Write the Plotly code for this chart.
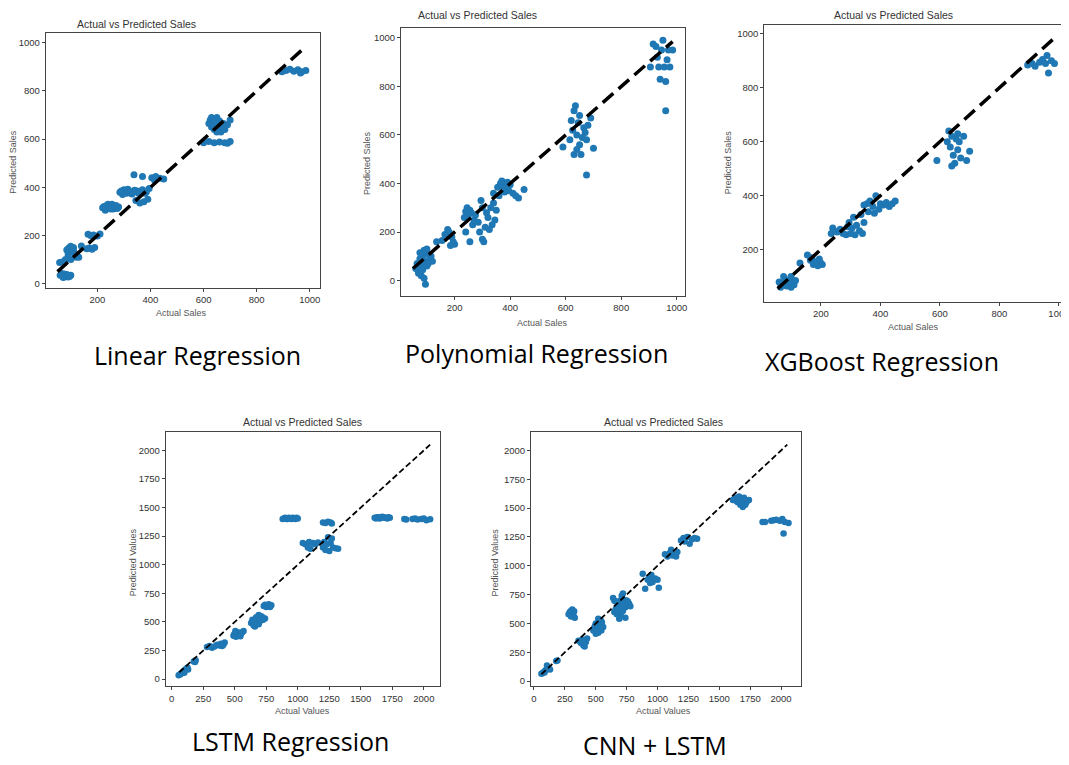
import plotly.graph_objects as go

# The page body has an 8px default margin, so figure coordinates are offset.
OFF = 8
W, H = 1069 - OFF, 765 - OFF

# ---------------- data ----------------
lin_x = [60,70,80,90,100,75,85,65,72,95, 58,68,
         85,95,105,100,110,90,120,80,100,130,115,90,100,110, 140,
         160,170,180,190, 165,175,185,200,210,
         225,235,245,255,265,275,230,260,220,240,250,270,280,
         285,300,310,320,335,350,360,370,380,295,330,290,305,315,325,340,355,365,385,
         345,360,375,390, 338,370, 395,
         405,420,435,450,415,
         600,620,640,660,680,700,690,
         625,635,645,655,630,640,650,660,670,680,690,700,620,645,665,630,650,635,655,675,640,
         895,910,925,940,955,970,985,965]
lin_y = [35,30,32,28,35,40,38,42,25,30, 88,90,
         140,150,145,130,150,120,110,100,100,110,125,145,155,140, 156,
         145,148,143,150, 205,200,202,198,206,
         320,325,315,330,318,312,305,310,315,330,310,325,318,
         380,390,375,385,380,385,378,390,375,370,372,385,380,392,378,388,375,385,382,
         345,335,340,350, 452,445, 395,
         440,445,438,435,430,
         585,590,585,588,585,590,583,
         680,670,685,660,650,640,630,675,650,640,660,680,665,655,630,690,690,660,645,665,675,
         880,885,890,882,888,880,885,875]

poly_x = [60,65,70,75,80,85,90,95,100,105,80,90,95,70,100,110,85,65,75,90,105,115,120,
          135,155,165,180,190,195,200,185,175,
          240,245,250,255,260,235,265,270,255,240,290,300,305,310,320,315,300,295,330,340,350,345,335,325,285,275,
          340,355,365,375,385,395,400,410,420,430,360,380,450,370,390,
          590,615,625,630,635,640,645,650,655,660,665,670,675,680,690,700,640,630,675,650,620,
          905,915,925,930,935,940,945,955,960,960,965,970,975,985,950]
poly_y = [50,70,40,90,60,100,80,120,130,110,20,10,-15,30,60,90,45,55,115,125,70,100,80,
          160,165,190,200,180,160,150,145,210,
          285,300,270,290,280,260,230,250,160,200,200,170,160,220,260,280,300,330,300,320,290,250,230,210,240,270,
          360,385,400,390,380,370,395,360,350,340,350,365,375,410,405,
          550,580,620,700,720,600,650,560,520,590,630,610,580,640,670,545,540,520,435,680,660,
          880,975,965,920,880,830,950,880,820,700,910,950,880,950,990]

xgb_x = [60,70,80,90,100,85,95,105,110,75,65,100,115,
         130,155,165,175,185,195,200,190,170,205,
         235,245,255,265,275,285,240,290,
         295,305,310,320,330,340,345,335,300,315,
         355,365,375,385,395,400,410,420,430,440,450,360,380,345,
         590,625,630,635,640,645,650,655,660,665,670,680,690,700,640,660,
         895,910,920,935,945,955,960,965,975,985]
xgb_y = [80,75,90,70,60,65,85,80,70,100,60,100,85,
         150,180,160,145,155,165,150,140,170,145,
         260,270,265,275,260,255,280,285,
         300,280,320,290,270,260,300,330,260,255,
         370,380,360,400,350,370,365,375,360,370,380,340,335,365,
         530,600,640,580,620,550,520,610,570,600,540,620,530,565,510,630,
         885,890,880,895,905,890,920,855,900,890]

lstm_x = [55,65,75,85,95,105,115,125,70,100,130,
          175,190,185,
          280,300,320,340,360,380, 390,410,420,400,
          490,500,510,520,530,540,550,560,570,505,495,515,535,545,
          630,640,650,660,670,680,690,700,710,720,740,660,690,645,665,675,705,725,
          730,740,750,760,770,780,790,
          880,900,920,940,960,980,1000,890,910,930,950,970,990,
          1040,1060,1080,1090,1100,1120,1140,1160,
          1200,1220,1240,1260,1270,
          1200,1210,1220,1230,1240,1250,1260,1270,1280,1300,1320,
          1610,1630,1650,1670,1690,1710,1730,1620,1640,1660,1680,1700,1720,
          1845,1860,
          1910,1930,1950,1980,2000,2020,2050]
lstm_y = [35,40,50,60,70,80,90,100,45,55,85,
          155,165,150,
          280,290,275,285,300,295, 310,300,320,290,
          380,400,370,410,390,380,400,410,420,420,390,395,405,375,
          490,520,470,500,540,510,480,530,550,540,530,460,560,500,520,490,510,520,
          640,650,630,640,655,630,645,
          1400,1410,1400,1405,1410,1400,1405,1405,1400,1410,1400,1405,1410,
          1190,1180,1150,1200,1140,1190,1180,1195,
          1370,1365,1375,1370,1360,
          1150,1200,1130,1180,1240,1120,1190,1230,1150,1145,1140,
          1410,1415,1405,1420,1410,1405,1412,1405,1415,1410,1415,1410,1415,
          1400,1395,
          1400,1405,1395,1400,1405,1390,1398]

cnn_x = [60,70,80,90,100,110,120,130,105,85,
         180,190,
         280,290,300,310,320,330,300,325,
         360,380,400,410,420,430,390,
         480,490,500,510,520,530,540,550,560,500,520,545,495,515,535,505,
         640,650,660,670,680,690,700,710,720,730,740,750,760,770,780,690,720,650,700,740,
         660,680,700,720,740,760,690,710,
         880,900,920,930,950,960,980,1000,1010,940,
         1060,1080,1100,1110,1120,1140,1150,1160,
         1190,1210,1220,1240,1260,1280,1300,1320,
         1610,1630,1650,1660,1670,1680,1690,1700,1720,1740,1620,1640,1660,1680,1700,1710,
         1850,1870,
         1920,1940,1960,1990,2010,2020,2030,2060]
cnn_y = [65,70,80,90,100,120,110,100,135,75,
         175,180,
         580,600,560,620,590,550,610,605,
         350,330,310,300,340,370,360,
         440,470,500,450,420,480,530,510,470,410,540,440,480,500,460,440,
         720,700,620,580,650,690,560,740,610,680,640,700,660,670,650,540,760,600,640,550,
         690,600,700,650,700,690,620,600,
         930,800,880,900,920,860,890,880,810,850,
         1100,1080,1110,1140,1090,1100,1080,1120,
         1220,1240,1210,1250,1190,1230,1240,1235,
         1570,1590,1550,1600,1530,1580,1510,1560,1550,1570,1580,1560,1570,1550,1590,1530,
         1380,1380,
         1390,1395,1400,1390,1405,1280,1380,1370]

titles = ["Actual vs Predicted Sales"] * 5
xlabels = ["Actual Sales", "Actual Sales", "Actual Sales", "Actual Values", "Actual Values"]
ylabels = ["Predicted Sales", "Predicted Sales", "Predicted Sales", "Predicted Values", "Predicted Values"]
captions = ["Linear Regression", "Polynomial Regression", "XGBoost Regression", "LSTM Regression", "CNN + LSTM"]
ideal_lines = [(50, 980), (50, 985), (55, 985), (60, 2050), (60, 2050)]

# ---------------- layout geometry (window pixels) ----------------
panels = [
    dict(box=(46, 322, 33, 288), xr=(5.6, 1037), yr=(-16.6, 1041), xt=[200,400,600,800,1000], yt=[0,200,400,600,800,1000],
         title=(137, 24), xlab=(183, 313), ylab=(13, 162), cap=(199, 355), lw=3.5, dash="14px,7px", ms=7),
    dict(box=(404, 690, 28, 296), xr=(7, 1029), yr=(-62, 1041), xt=[200,400,600,800,1000], yt=[0,200,400,600,800,1000],
         title=(481, 15), xlab=(547, 323), ylab=(370, 163), cap=(541, 353), lw=3.5, dash="14px,7px", ms=7),
    dict(box=(770, 1069, 25, 302), xr=(10, 1007), yr=(7, 1033), xt=[200,400,600,800,1000], yt=[200,400,600,800,1000],
         title=(900, 15), xlab=(920, 327), ylab=(733, 163), cap=(889, 361), lw=3.5, dash="14px,7px", ms=7),
    dict(box=(167, 443, 433, 687), xr=(-47, 2126), yr=(-61, 2157), xt=[0,250,500,750,1000,1250,1500,1750,2000],
         yt=[0,250,500,750,1000,1250,1500,1750,2000],
         title=(305, 423), xlab=(305, 712), ylab=(134, 563), cap=(293, 742), lw=1.8, dash="6px,3px", ms=6.5),
    dict(box=(535, 807, 433, 687), xr=(-24, 2161), yr=(-43, 2156), xt=[0,250,500,750,1000,1250,1500,1750,2000],
         yt=[0,250,500,750,1000,1250,1500,1750,2000],
         title=(668, 423), xlab=(668, 712), ylab=(499, 563), cap=(660, 746), lw=1.8, dash="6px,3px", ms=6.5),
]

xs = [lin_x, poly_x, xgb_x, lstm_x, cnn_x]
ys = [lin_y, poly_y, xgb_y, lstm_y, cnn_y]

def px(x):
    return min(max((x - OFF) / W, 0), 1)

def py(y):
    return min(max(1 - (y - OFF) / H, 0), 1)

SANS = "Liberation Sans, Arial, sans-serif"
TICK_FONT = dict(family=SANS, size=9.5, color="#333333")
LAB_FONT = dict(family=SANS, size=9, color="#555555")
TITLE_FONT = dict(family=SANS, size=10.5, color="#333333")
CAP_FONT = dict(family="Open Sans, sans-serif", size=25, color="#000000")

fig = go.Figure()
annotations = []
for i, p in enumerate(panels):
    n = "" if i == 0 else str(i + 1)
    xa, ya = "x" + n, "y" + n
    x0, x1, y0, y1 = p["box"]
    fig.add_trace(go.Scatter(x=xs[i], y=ys[i], mode="markers", xaxis=xa, yaxis=ya,
                             marker=dict(color="#1f77b4", size=p["ms"], line=dict(width=0)),
                             showlegend=False, hoverinfo="x+y"))
    lo, hi = ideal_lines[i]
    fig.add_trace(go.Scatter(x=[lo, hi], y=[lo, hi], mode="lines", xaxis=xa, yaxis=ya,
                             line=dict(color="black", width=p["lw"], dash=p["dash"]),
                             showlegend=False, hoverinfo="skip"))
    axcommon = dict(showline=True, linecolor="#444444", linewidth=1, mirror=True, showgrid=False,
                    zeroline=False, ticks="outside", ticklen=3, tickcolor="#444444", tickfont=TICK_FONT)
    fig.layout["xaxis" + n] = dict(domain=[px(x0), px(x1)], range=list(p["xr"]), anchor=ya,
                                   tickvals=p["xt"], ticklabeloverflow="allow", **axcommon)
    fig.layout["yaxis" + n] = dict(domain=[py(y1), py(y0)], range=list(p["yr"]), anchor=xa,
                                   tickvals=p["yt"], **axcommon)
    annotations.append(dict(text=titles[i], x=px(p["title"][0]), y=py(p["title"][1]), xref="paper", yref="paper",
                            showarrow=False, font=TITLE_FONT, xanchor="center", yanchor="middle"))
    annotations.append(dict(text=xlabels[i], x=px(p["xlab"][0]), y=py(p["xlab"][1]), xref="paper", yref="paper",
                            showarrow=False, font=LAB_FONT, xanchor="center", yanchor="middle"))
    annotations.append(dict(text=ylabels[i], x=px(p["ylab"][0]), y=py(p["ylab"][1]), xref="paper", yref="paper",
                            showarrow=False, font=LAB_FONT, textangle=-90, xanchor="center", yanchor="middle"))
    annotations.append(dict(text=captions[i], x=px(p["cap"][0]), y=py(p["cap"][1]), xref="paper", yref="paper",
                            showarrow=False, font=CAP_FONT, xanchor="center", yanchor="middle"))

fig.update_layout(width=W, height=H, margin=dict(l=0, r=0, t=0, b=0),
                  paper_bgcolor="white", plot_bgcolor="white", annotations=annotations)

fig.write_html("out.html")
